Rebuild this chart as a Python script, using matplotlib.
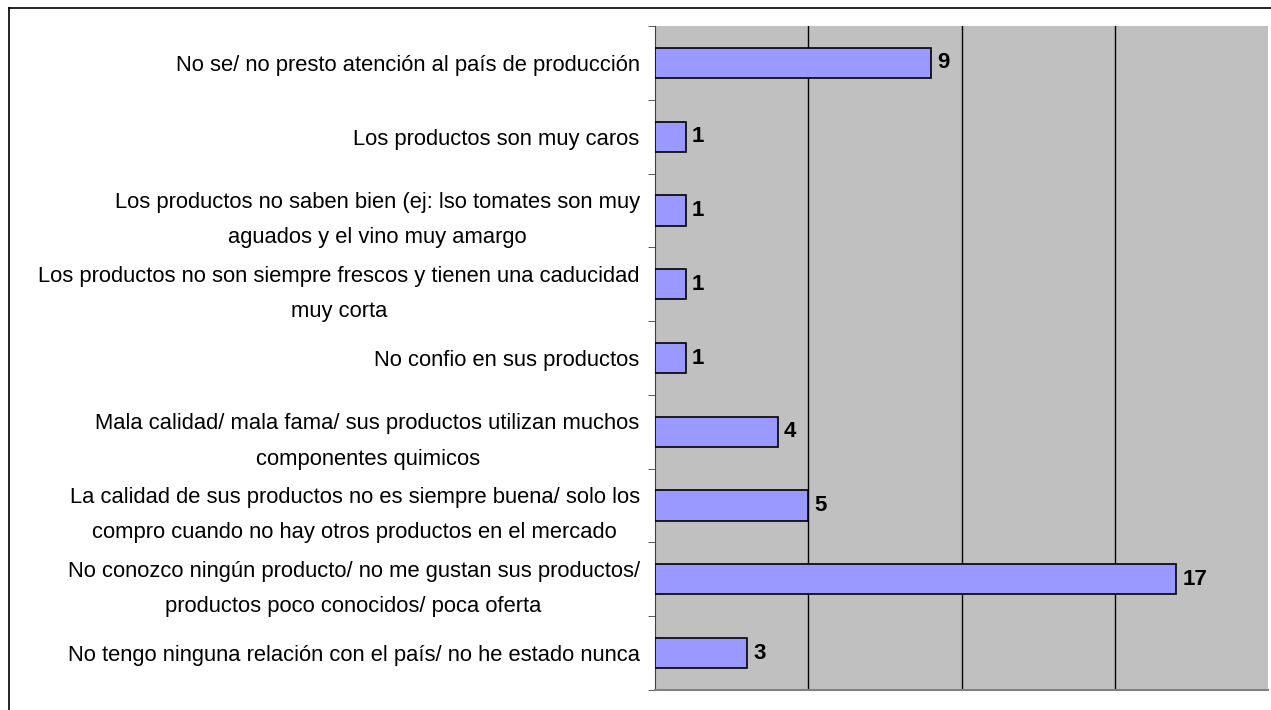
import matplotlib
matplotlib.use("Agg")
import matplotlib.pyplot as plt
from matplotlib.lines import Line2D
import numpy as np

plt.rcParams["font.family"] = ["Liberation Sans", "DejaVu Sans"]

categories = [
    "No se/ no presto atención al país de producción",
    "Los productos son muy caros",
    "Los productos no saben bien (ej: lso tomates son muy\naguados y el vino muy amargo",
    "Los productos no son siempre frescos y tienen una caducidad\nmuy corta",
    "No confio en sus productos",
    "Mala calidad/ mala fama/ sus productos utilizan muchos\ncomponentes quimicos",
    "La calidad de sus productos no es siempre buena/ solo los\ncompro cuando no hay otros productos en el mercado",
    "No conozco ningún producto/ no me gustan sus productos/\nproductos poco conocidos/ poca oferta",
    "No tengo ninguna relación con el país/ no he estado nunca",
]
counts = [9, 1, 1, 1, 1, 4, 5, 17, 3]

BAR_COLOR = "#9999FF"
PLOT_BG = "#C0C0C0"

W, H = 1271, 710
fig = plt.figure(figsize=(W / 100, H / 100), dpi=100)
ax = fig.add_axes([655 / W, 1 - 690 / H, (1268 - 655) / W, (690 - 26) / H])
ax.set_facecolor(PLOT_BG)

y = np.arange(len(categories))
ax.barh(y, counts, height=0.41, color=BAR_COLOR, edgecolor="black",
        linewidth=1.2, zorder=3)
for yi, v in zip(y, counts):
    ax.text(v + 0.2, yi, str(v), va="center", ha="left",
            fontsize=16, fontweight="bold", zorder=4)

ax.set_xlim(0, 20)
ax.set_ylim(len(categories) - 0.5, -0.5)
ax.set_xticks([5, 10, 15])
ax.set_xticklabels([])
ax.tick_params(axis="x", length=0)
ax.grid(axis="x", color="black", linewidth=1, zorder=1)

ax.set_yticks(y)
ax.set_yticklabels(categories, fontsize=15.8, multialignment="center",
                   linespacing=1.9)
ax.tick_params(axis="y", which="major", length=0, pad=11)
ax.set_yticks(np.arange(-0.5, len(categories) + 0.5, 1), minor=True)
ax.tick_params(axis="y", which="minor", length=5, color="#404040", direction="out")

for side in ["top", "right"]:
    ax.spines[side].set_visible(False)
ax.spines["left"].set_color("#404040")
ax.spines["bottom"].set_color("#808080")
ax.spines["bottom"].set_linewidth(1.5)

# outer chart frame (top and left edges visible)
fig.add_artist(Line2D([9 / W, 9 / W], [0, 1 - 8 / H], color="black", linewidth=1.2))
fig.add_artist(Line2D([9 / W, 1], [1 - 8 / H, 1 - 8 / H], color="black", linewidth=1.2))

fig.savefig("out.png", dpi=100)
